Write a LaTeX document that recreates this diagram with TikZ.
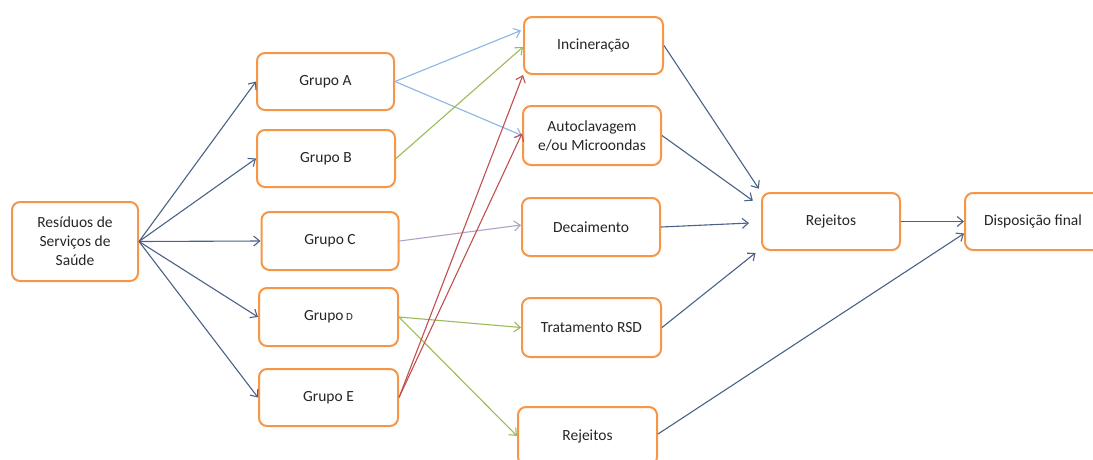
\documentclass[tikz,border=0pt]{standalone}
\usepackage{fontspec}
\setmainfont{Carlito}
\usepackage{tikz}
\usetikzlibrary{arrows.meta}
\definecolor{boxorange}{HTML}{F79646}
\definecolor{linkblue}{HTML}{4A6189}
\definecolor{lightblue}{HTML}{8DB4E2}
\definecolor{lightgreen}{HTML}{9BBB59}
\definecolor{lilac}{HTML}{B3A2C7}
\definecolor{darkred}{HTML}{C0504D}
\tikzset{
	box/.style={draw=boxorange, line width=2pt, rounded corners=8pt, fill=white, align=center, text=black!85, inner sep=2pt, font=\fontsize{15.5}{19}\selectfont},
	link/.style={line width=1.1pt, color=linkblue, -{Straight Barb[length=6pt, width=10pt]}},
}

\begin{document}
\begin{tikzpicture}[x=1pt, y=-1pt]
		%%%%% START %%%%%
		
		\useasboundingbox (0, 0) rectangle (1093, 459);
		
		\node[box, minimum width=126pt, minimum height=79pt] (res) at (75, 241.5) {Resíduos de\\Serviços de\\Saúde};
		
		\node[box, minimum width=137pt, minimum height=57pt] (ga) at (325.5, 81.5) {Grupo A};
		\node[box, minimum width=138pt, minimum height=57pt] (gb) at (326, 158.5) {Grupo B};
		\node[box, minimum width=137pt, minimum height=58pt] (gc) at (330, 241) {Grupo C};
		\node[box, minimum width=139pt, minimum height=58pt] (gd) at (328.5, 317) {Grupo\,{\fontsize{11}{13}\selectfont D}};
		\node[box, minimum width=139pt, minimum height=57pt] (ge) at (328.5, 397.5) {Grupo E};
		
		\node[box, minimum width=139pt, minimum height=57pt] (inc) at (593.5, 45.5) {Incineração};
		\node[box, minimum width=138pt, minimum height=59pt] (aut) at (592, 135.5) {Autoclavagem\\e/ou Microondas};
		\node[box, minimum width=138pt, minimum height=58pt] (dec) at (591, 227) {Decaimento};
		\node[box, minimum width=139pt, minimum height=59pt] (trt) at (591.5, 327.5) {Tratamento RSD};
		\node[box, minimum width=139pt, minimum height=58pt] (rjb) at (587.5, 436) {Rejeitos};
		
		\node[box, minimum width=138pt, minimum height=57pt] (rej) at (831, 221.5) {Rejeitos};
		\node[box, minimum width=136pt, minimum height=57pt] (disp) at (1033, 221.5) {Disposição final};
		
		\draw[link] (res.east) -- (ga.west);
		\draw[link] (res.east) -- (gb.west);
		\draw[link] (res.east) -- (gc.west);
		\draw[link] (res.east) -- (gd.west);
		\draw[link] (res.east) -- (ge.west);
		
		\draw[link, color=lightblue] (ga.east) -- ([yshift=15pt, xshift=-2pt]inc.west);
		\draw[link, color=lightblue] (ga.east) -- (aut.west);
		\draw[link, color=lightgreen] (gb.east) -- ([yshift=-1.5pt]inc.west);
		\draw[link, color=lilac] (gc.east) -- ([yshift=2pt]dec.west);
		\draw[link, color=lightgreen] (gd.east) -- (trt.west);
		\draw[link, color=lightgreen] (gd.east) -- (rjb.west);
		\draw[link, color=darkred] (ge.east) -- (inc.south west);
		\draw[link, color=darkred] (ge.east) -- ([yshift=2pt]aut.west);
		
		\draw[link, shorten >=4pt] (inc.east) -- (rej.north west);
		\draw[link, shorten >=10pt] (aut.east) -- ([yshift=15pt]rej.west);
		\draw[link, shorten >=12pt] (dec.east) -- ([yshift=-1pt]rej.west);
		\draw[link, shorten >=7pt] (trt.east) -- ([yshift=-27pt]rej.west);
		
		\draw[link] (rej.east) -- (disp.west);
		\draw[link] ([yshift=2pt]rjb.east) -- ([yshift=-12pt]disp.west);
		
		%%%%% END %%%%%
	\end{tikzpicture}
\end{document}
